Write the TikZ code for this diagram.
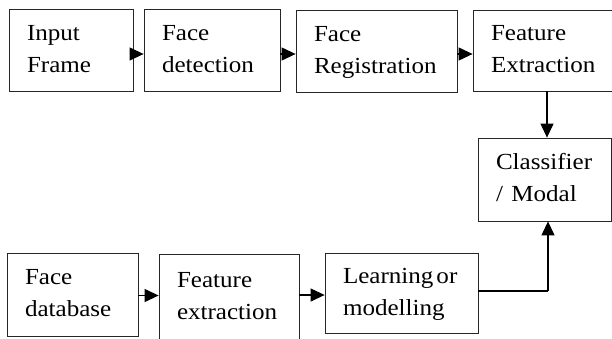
\documentclass[tikz,border=0pt]{standalone}
\usepackage{fontspec}
\setmainfont{Liberation Serif}
\usepackage{graphicx}
\usetikzlibrary{arrows.meta}
\newcommand{\sx}[1]{\strut\scalebox{1.09}[1]{#1}}
\begin{document}
\begin{tikzpicture}[x=1pt,y=-1pt,
  box/.style={draw=black!85, line width=0.8pt, rectangle, inner xsep=18pt, inner ysep=0pt,
    align=left, font=\fontsize{23}{32}\selectfont, text=black},
  conn/.style={draw=black, line width=1.1pt, -{Triangle[length=14pt,width=13pt]}},
  plain/.style={draw=black, line width=1.1pt}]
\useasboundingbox (0,0) rectangle (612,338);
\fill[white] (0,0) rectangle (612,338);
% top row
\node[box, minimum width=124pt, minimum height=82pt, text width=88pt] (b1) at (71,50) {\sx{Input}\\\sx{Frame}};
\node[box, minimum width=136pt, minimum height=82pt, text width=100pt] (b2) at (212,50) {\sx{Face}\\\sx{detection}};
\node[box, minimum width=161pt, minimum height=82pt, text width=125pt] (b3) at (376.5,51) {\sx{Face}\\\sx{Registration}};
\node[box, minimum width=148pt, minimum height=81pt, text width=112pt] (b4) at (547,50.5) {\sx{Feature}\\\sx{Extraction}};
% classifier
\node[box, minimum width=133pt, minimum height=83pt, text width=97pt] (cls) at (544.5,179.5) {\sx{Classifier}\\\sx{/ Modal}};
% bottom row
\node[box, minimum width=131pt, minimum height=83pt, text width=95pt] (d1) at (72.5,294.5) {\sx{Face}\\\sx{database}};
\node[box, minimum width=140pt, minimum height=86pt, text width=104pt] (d2) at (229,297) {\sx{Feature}\\\sx{extraction}};
\node[box, minimum width=153pt, minimum height=80pt, text width=117pt] (d3) at (401.5,293) {\sx{Learning\hspace{0.12em}or}\\\sx{modelling}};
% connectors
\draw[conn] ([yshift=-4pt]b1.east) -- ([yshift=-4pt]b1.east -| b2.west);
\draw[conn] ([yshift=-4pt]b2.east) -- ([yshift=-4pt]b2.east -| b3.west);
\draw[conn] ([yshift=-3pt]b3.east) -- ([yshift=-3pt]b3.east -| b4.west);
\draw[conn] (b4.south) -- (b4.south |- cls.north);
\draw[conn] ([yshift=-1pt]d1.east) -- ([yshift=-1pt]d1.east -| d2.west);
\draw[conn] ([yshift=2pt]d2.east) -- ([yshift=2pt]d2.east -| d3.west);
\coordinate (j) at (548,291);
\draw[plain] (d3.east |- j) -- (j);
\draw[conn] (j) -- (j |- cls.south);
\end{tikzpicture}
\end{document}
